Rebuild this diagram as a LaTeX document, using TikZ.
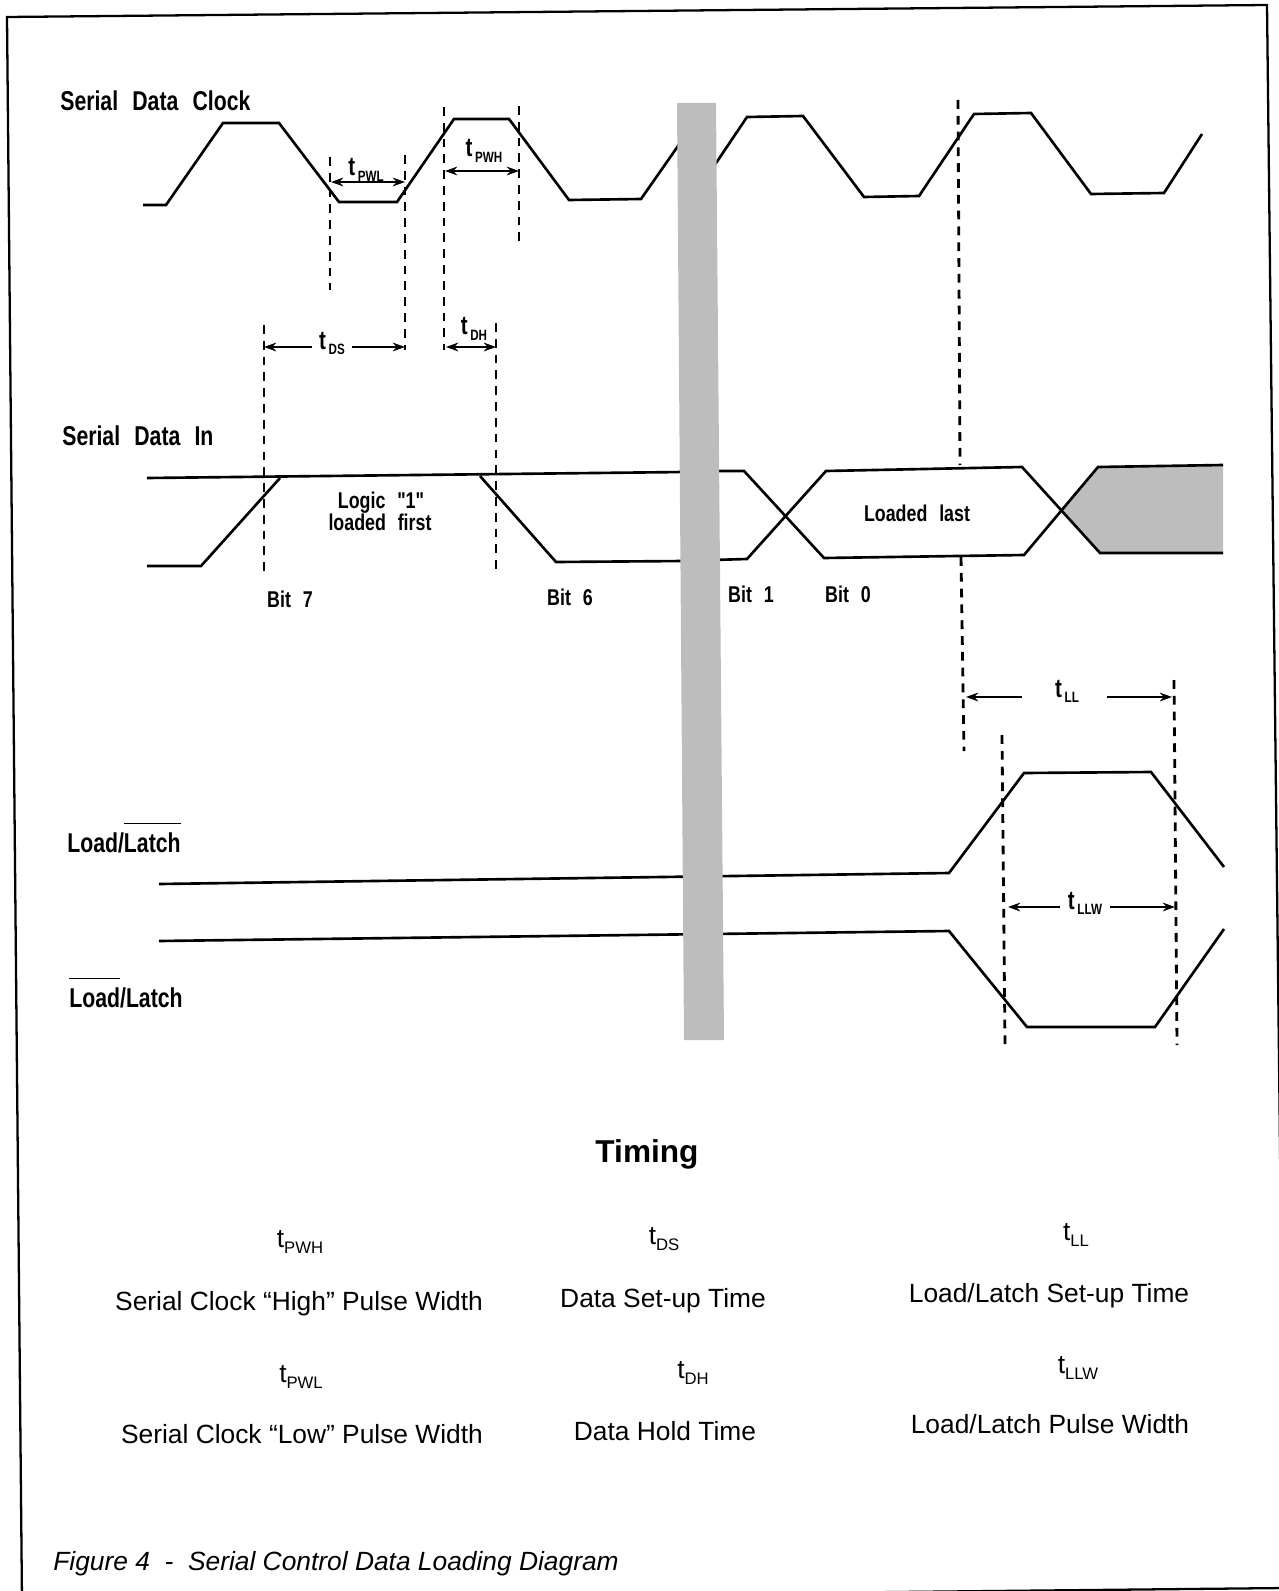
\documentclass[tikz,border=0pt]{standalone}
\usepackage{fontspec}
\setmainfont{Liberation Sans}
\newfontfamily\sigfont[WordSpace=2.4, FakeStretch=0.78]{Liberation Sans}
\usetikzlibrary{arrows.meta}

\definecolor{barfill}{gray}{0.74}

\newcommand{\tlab}[1]{t\hspace{1.5pt}\raisebox{-3pt}{\fontsize{8.5}{9}\selectfont #1}}
\newcommand{\tsym}[1]{t\raisebox{-3.5pt}{\fontsize{9.5}{10}\selectfont #1}}
\newcommand{\barred}[1]{\setbox0\hbox{#1}\rlap{\rule[\dimexpr\ht0+4.5pt\relax]{\wd0}{0.9pt}}\box0}

\begin{document}
\begin{tikzpicture}[
    x=0.02cm, y=-0.02cm,
    >={Stealth[length=7pt, width=5pt]},
    wave/.style={line width=1.5pt, line join=miter},
    guide/.style={line width=1.6pt, dash pattern=on 5pt off 4pt},
    dim/.style={line width=0.9pt},
    signame/.style={
        anchor=base west,
        inner sep=0pt,
        font=\sigfont\bfseries\fontsize{15.5}{17}\selectfont
    },
    note/.style={
        anchor=base,
        inner sep=0pt,
        font=\sigfont\bfseries\fontsize{13}{14}\selectfont
    },
    tl/.style={
        anchor=base,
        inner sep=0pt,
        font=\sigfont\bfseries\fontsize{15}{16}\selectfont
    },
    head/.style={anchor=base, inner sep=0pt, font=\bfseries\fontsize{18}{20}\selectfont},
    sym/.style={anchor=base, inner sep=0pt, font=\fontsize{15}{16}\selectfont},
    desc/.style={anchor=base, inner sep=0pt, font=\fontsize{15}{16}\selectfont},
    caption/.style={anchor=base west, inner sep=0pt, font=\itshape\fontsize{15}{16}\selectfont}
]

\useasboundingbox (0,0) rectangle (1278,1591);

% frame
\draw[line width=1.3pt] (7,17) -- (1267,5) -- (1285,1588) -- (22,1601) -- cycle;

% serial data clock
\draw[wave] (143,205) -- (166,205) -- (223,123) -- (279,123) -- (339,202) -- (397,202)
    -- (454,119) -- (509,119) -- (569,200) -- (641,199) -- (685,136);
\draw[wave] (708,175) -- (747,117) -- (803,116) -- (864,197) -- (919,196) -- (974,114)
    -- (1031,113) -- (1091,194) -- (1164,193) -- (1202,134);

% serial data in
\draw[wave] (147,478) -- (684,472);
\draw[wave] (147,566) -- (201,566) -- (280,478);
\draw[wave] (480,476) -- (556,562) -- (684,561);
\fill[barfill] (1060,510) -- (1098,467) -- (1223,465) -- (1223,553) -- (1100,553) -- cycle;
\draw[wave] (712,471) -- (744,471) -- (824,558) -- (1024,555) -- (1098,467) -- (1223,465);
\draw[wave] (712,560) -- (747,559) -- (826,471) -- (1022,467) -- (1100,553) -- (1223,553);

% load/latch
\draw[wave] (159,884) -- (949,873) -- (1024,773) -- (1151,772) -- (1224,867);
\draw[wave] (159,941) -- (949,931) -- (1027,1027) -- (1155,1027) -- (1224,929);

% break bar
\fill[barfill] (677,103) -- (716,103) -- (724,1040) -- (684,1040) -- cycle;

% guide lines
\draw[guide] (330,157) -- (330,290);
\draw[guide] (405,155) -- (405,350);
\draw[guide] (444,107) -- (444,350);
\draw[guide] (519,106) -- (519,248);
\draw[guide] (264,325) -- (264,578);
\draw[guide] (496,323) -- (496,573);
\draw[guide] (958,100) -- (960,465);
\draw[guide] (961,557) -- (964,751);
\draw[guide] (1174,680) -- (1177,1045);
\draw[guide] (1002,735) -- (1005,1045);

% timing marks
\node[tl] (pwl) at (366,176) {\tlab{PWL}};
\draw[dim, <->] (331,182) -- (405,182);
\node[tl] (pwh) at (484,157) {\tlab{PWH}};
\draw[dim, <->] (445,171) -- (519,171);
\node[tl] (ds) at (332,349) {\tlab{DS}};
\draw[dim, ->] (312,347) -- (264,347);
\draw[dim, ->] (352,347) -- (405,347);
\node[tl] (dh) at (474,335) {\tlab{DH}};
\draw[dim, <->] (446,347) -- (496,347);
\node[tl] (ll) at (1067,697) {\tlab{LL}};
\draw[dim, ->] (1022,697) -- (966,697);
\draw[dim, ->] (1107,697) -- (1172,697);
\node[tl] (llw) at (1085,909) {\tlab{LLW}};
\draw[dim, ->] (1060,907) -- (1008,907);
\draw[dim, ->] (1110,907) -- (1175,907);

% signal names and notes
\node[signame] (clk) at (60,111) {Serial Data Clock};
\node[signame] (sdi) at (62,445) {Serial Data In};
\node[signame] (ldhi) at (67,852) {Load/\barred{Latch}};
\node[signame] (ldlo) at (69,1007) {\barred{Load}/Latch};
\node[note] (first) at (381,508) {Logic "1"};
\node[note] (first2) at (380,530) {loaded first};
\node[note] (last) at (917,521) {Loaded last};
\node[note] (b7) at (290,607) {Bit 7};
\node[note] (b6) at (570,605) {Bit 6};
\node[note] (b1) at (751,602) {Bit 1};
\node[note] (b0) at (848,602) {Bit 0};

% timing table
\node[head] (timing) at (647,1162) {Timing};
\node[sym] (spwh) at (300,1247) {\tsym{PWH}};
\node[sym] (sds) at (664,1244) {\tsym{DS}};
\node[sym] (sll) at (1076,1240) {\tsym{LL}};
\node[desc] (dpwh) at (299,1310) {Serial Clock “High” Pulse Width};
\node[desc] (dds) at (663,1307) {Data Set-up Time};
\node[desc] (dll) at (1049,1302) {Load/Latch Set-up Time};
\node[sym] (spwl) at (301,1382) {\tsym{PWL}};
\node[sym] (sdh) at (693,1378) {\tsym{DH}};
\node[sym] (sllw) at (1078,1373) {\tsym{LLW}};
\node[desc] (dpwl) at (302,1443) {Serial Clock “Low” Pulse Width};
\node[desc] (ddh) at (665,1440) {Data Hold Time};
\node[desc] (dllw) at (1050,1433) {Load/Latch Pulse Width};

\node[caption] (fig) at (53,1570) {Figure 4~~-~~Serial Control Data Loading Diagram};

\end{tikzpicture}
\end{document}
